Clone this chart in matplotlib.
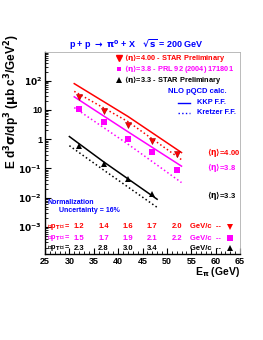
import numpy as np
import matplotlib
matplotlib.use('Agg')
import matplotlib.pyplot as plt
import matplotlib.transforms as mtrans
from matplotlib.ticker import FixedLocator, LogLocator, MultipleLocator, FuncFormatter

plt.rcParams['font.family'] = ['Liberation Sans', 'DejaVu Sans']
plt.rcParams['font.weight'] = 'bold'
plt.rcParams['mathtext.default'] = 'bf'

# data points (E_pi in GeV, E d3sigma/dp3)
E_eta400 = [32, 37, 42, 47, 52]
xs_eta400 = [27.6, 8.9, 2.95, 0.88, 0.316]
E_eta38 = [32, 37, 42, 47, 52]
xs_eta38 = [11.0, 3.85, 1.0, 0.36, 0.089]
E_eta33 = [32, 37, 42, 47]
xs_eta33 = [0.59, 0.144, 0.043, 0.0134]

# NLO pQCD curves
E_nlo_fwd = [31, 42, 53]
kkp_eta400 = [79, 6.0, 0.35]
kre_eta400 = [43, 4.0, 0.2]
kkp_eta38 = [28, 1.8, 0.12]
kre_eta38 = [12, 0.68, 0.033]
E_nlo_33 = [30, 37, 48]
kkp_eta33 = [1.23, 0.17, 0.0089]
kre_eta33 = [0.6, 0.089, 0.0047]

# mean pT labels
pt_eta400 = ['1.2', '1.4', '1.6', '1.7', '2.0']
pt_eta38 = ['1.5', '1.7', '1.9', '2.1', '2.2']
pt_eta33 = ['2.3', '2.8', '3.0', '3.4']

red = '#ff0000'
mag = '#ff00ff'
blue = '#0000ff'

W, H = 263, 340
fig = plt.figure(figsize=(W/100., H/100.), dpi=100)
ax = fig.add_axes([45./W, 1-254./H, 195./W, 202./H])

def fx(x): return x/float(W)
def fy(y): return 1 - y/float(H)

ax.plot(E_nlo_fwd, kkp_eta400, '-', c=red, lw=1.1)
ax.plot(E_nlo_fwd, kre_eta400, ':', c=red, lw=1.1)
ax.plot(E_nlo_fwd, kkp_eta38, '-', c=mag, lw=1.1)
ax.plot(E_nlo_fwd, kre_eta38, ':', c=mag, lw=1.1)
ax.plot(E_nlo_33, kkp_eta33, '-', c='k', lw=1.1)
ax.plot(E_nlo_33, kre_eta33, ':', c='k', lw=1.1)

ax.plot(E_eta400, xs_eta400, 'v', c=red, ms=4, mec='#a00000', mew=0.4)
ax.plot(E_eta38, xs_eta38, 's', c=mag, ms=4, mew=0)
ax.plot(E_eta33, xs_eta33, '^', c='k', ms=4, mew=0)

ax.set_yscale('log')
ax.set_xlim(25, 65)
ax.set_ylim(1.2e-4, 950)

ax.xaxis.set_major_locator(MultipleLocator(5))
ax.xaxis.set_minor_locator(MultipleLocator(1))
ax.yaxis.set_major_locator(FixedLocator([1e-3, 1e-2, 1e-1, 1, 10, 100]))
ax.yaxis.set_minor_locator(LogLocator(base=10, subs=np.arange(2, 10)))

def ylab(v, pos):
    k = int(round(np.log10(v)))
    if k == 0:
        return '1'
    if k == 1:
        return '10'
    return r'$10^{%d}$' % k
ax.yaxis.set_major_formatter(FuncFormatter(ylab))
ax.yaxis.set_minor_formatter(FuncFormatter(lambda v, p: ''))

ax.tick_params(which='both', direction='in', top=False, right=False, labelsize=6.5, pad=2)
ax.tick_params(which='major', length=4, width=0.8)
ax.tick_params(which='minor', length=2, width=0.6)
for s in ['left', 'bottom']:
    ax.spines[s].set_linewidth(1.0)
for s in ['top', 'right']:
    ax.spines[s].set_linewidth(0.6)
    ax.spines[s].set_color('#b0b0b0')
for lb in ax.get_xticklabels() + ax.get_yticklabels():
    lb.set_fontweight('bold')

# axis titles
fig.text(fx(240), fy(272), r'E$_{\pi}$ (GeV)', ha='right', va='center', fontsize=7.5, fontweight='bold')
fig.text(fx(12), fy(102), r'E d$^3\sigma$/dp$^3$ ($\mu$b c$^3$/GeV$^2$)', rotation=90,
         ha='center', va='center', fontsize=8.5, fontweight='bold')

# title
fig.text(fx(136), fy(45), r'p + p $\rightarrow$ $\pi^0$ + X   $\sqrt{s}$ = 200 GeV',
         ha='center', va='center', fontsize=6.5, color=blue, fontweight='bold')

# legend
fig.lines.append(plt.Line2D([fx(119)], [fy(58)], marker='v', color=red, ms=4, transform=fig.transFigure))
fig.lines.append(plt.Line2D([fx(119)], [fy(69)], marker='s', color=mag, ms=3.5, mew=0, transform=fig.transFigure))
fig.lines.append(plt.Line2D([fx(119)], [fy(80)], marker='^', color='k', ms=4, mew=0, transform=fig.transFigure))
fs = 5.3
fig.text(fx(124), fy(58), r'$\langle\eta\rangle$=4.00 - STAR Preliminary', color=red, fontsize=fs, va='center', fontweight='bold')
fig.text(fx(124), fy(69), r'$\langle\eta\rangle$=3.8 - PRL 92 (2004) 171801', color=mag, fontsize=fs, va='center', fontweight='bold')
fig.text(fx(124), fy(80), r'$\langle\eta\rangle$=3.3 - STAR Preliminary', color='k', fontsize=fs, va='center', fontweight='bold')
fig.text(fx(168), fy(92), 'NLO pQCD calc.', color=blue, fontsize=5.5, va='center', fontweight='bold')
fig.lines.append(plt.Line2D([fx(178), fx(190)], [fy(103), fy(103)], ls='-', color=blue, lw=1.0, transform=fig.transFigure))
fig.lines.append(plt.Line2D([fx(178), fx(190)], [fy(113), fy(113)], ls=':', color=blue, lw=1.0, transform=fig.transFigure))
fig.text(fx(197), fy(103), 'KKP F.F.', color=blue, fontsize=fs, va='center', fontweight='bold')
fig.text(fx(197), fy(113), 'Kretzer F.F.', color=blue, fontsize=fs, va='center', fontweight='bold')

# curve labels
fig.text(fx(207), fy(153), r'$\langle\eta\rangle$=4.00', color=red, fontsize=5.5, va='center', fontweight='bold')
fig.text(fx(207), fy(168), r'$\langle\eta\rangle$=3.8', color=mag, fontsize=5.5, va='center', fontweight='bold')
fig.text(fx(207), fy(196), r'$\langle\eta\rangle$=3.3', color='k', fontsize=5.5, va='center', fontweight='bold')

fig.text(fx(48), fy(202), 'Normalization', color=blue, fontsize=5, va='center', fontweight='bold')
fig.text(fx(59), fy(210), 'Uncertainty = 16%', color=blue, fontsize=5, va='center', fontweight='bold')

# mean pT rows, values placed at the E of each point
xtr = mtrans.blended_transform_factory(ax.transData, fig.transFigure)
rows = [(pt_eta400, E_eta400, red, 'v', 227),
        (pt_eta38, E_eta38, mag, 's', 238),
        (pt_eta33, E_eta33, 'k', '^', 248)]
for labs, es, col, mk, yy in rows:
    fig.text(fx(71), fy(yy), u'\u27e8p$_T$\u27e9 =', color=col, fontsize=5.3,
             ha='right', va='center', fontweight='bold')
    for lab, e in zip(labs, es):
        fig.text(e, fy(yy), lab, transform=xtr, color=col, fontsize=5.5,
                 ha='center', va='center', fontweight='bold')
    fig.text(fx(190), fy(yy), 'GeV/c  --', color=col, fontsize=5.5, va='center', fontweight='bold')
    fig.lines.append(plt.Line2D([fx(230)], [fy(yy)], marker=mk, color=col, ms=3.8, mew=0, transform=fig.transFigure))

fig.savefig('out.png', dpi=100)
